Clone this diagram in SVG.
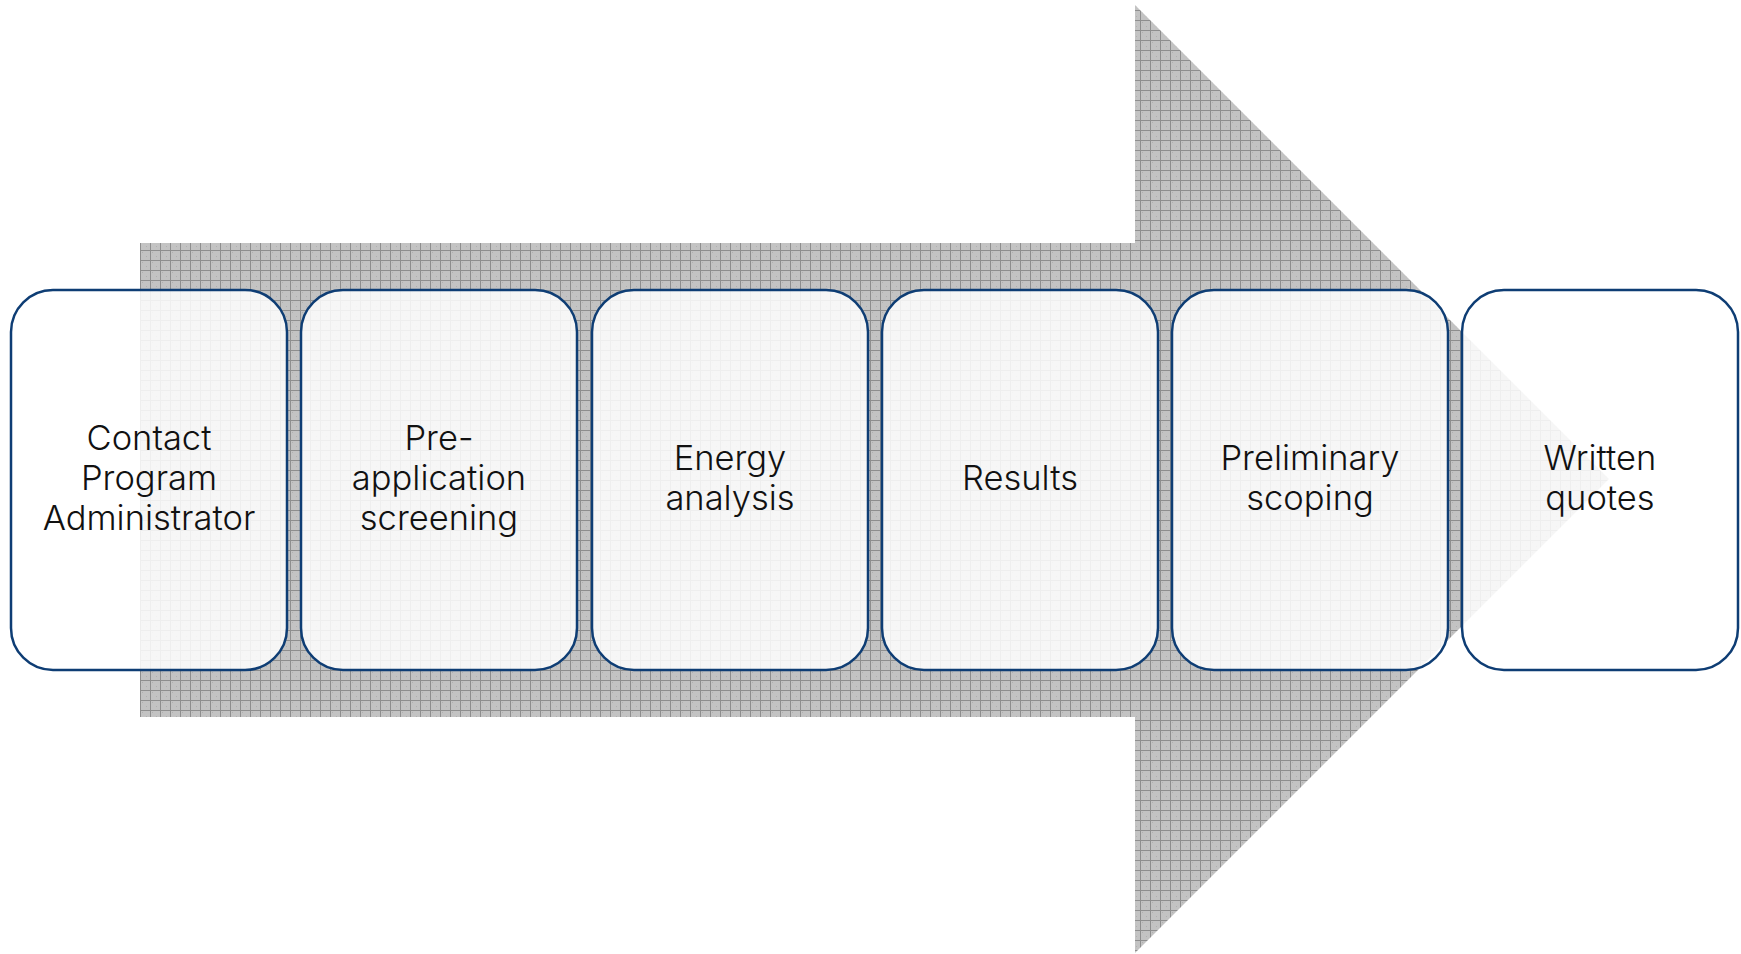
<svg xmlns="http://www.w3.org/2000/svg" width="1741" height="954" viewBox="0 0 1741 954">
<defs>
<pattern id="grid" x="0" y="0" width="10" height="10" patternUnits="userSpaceOnUse">
<rect width="10" height="10" fill="#c3c3c3"/>
<rect x="2" y="2" width="1" height="1" fill="#b0b0b0"/>
<rect x="6" y="6" width="1" height="1" fill="#b0b0b0"/>
<path d="M0 0.5 H10 M0.5 0 V10" stroke="#8e8e8e" stroke-width="1"/>
</pattern>
<style>
.box { fill: #ffffff; fill-opacity: 0.85; stroke: #0e3d74; stroke-width: 2.5; }
.lbl { font-family: Inter, "Liberation Sans", Arial, sans-serif; font-weight: 300; font-size: 34.5px; fill: #111111; text-anchor: middle; }
</style>
</defs>
<rect width="1741" height="954" fill="#ffffff"/>
<g id="arrow">
<polygon points="140,243 1135,243 1135,5 1609,479 1135,953 1135,717 140,717" fill="url(#grid)"/>
</g>
<g id="connectors"></g>
<g id="node1">
<rect class="box" x="11" y="290" width="276" height="380" rx="42" ry="42"/>
<text class="lbl" x="149" y="450">Contact</text>
<text class="lbl" x="149" y="490">Program</text>
<text class="lbl" x="149" y="530">Administrator</text>
</g>
<g id="node2">
<rect class="box" x="301" y="290" width="276" height="380" rx="42" ry="42"/>
<text class="lbl" x="439" y="450">Pre-</text>
<text class="lbl" x="439" y="490">application</text>
<text class="lbl" x="439" y="530">screening</text>
</g>
<g id="node3">
<rect class="box" x="592" y="290" width="276" height="380" rx="42" ry="42"/>
<text class="lbl" x="730" y="470">Energy</text>
<text class="lbl" x="730" y="510">analysis</text>
</g>
<g id="node4">
<rect class="box" x="882" y="290" width="276" height="380" rx="42" ry="42"/>
<text class="lbl" x="1020" y="490">Results</text>
</g>
<g id="node5">
<rect class="box" x="1172" y="290" width="276" height="380" rx="42" ry="42"/>
<text class="lbl" x="1310" y="470">Preliminary</text>
<text class="lbl" x="1310" y="510">scoping</text>
</g>
<g id="node6">
<rect class="box" x="1462" y="290" width="276" height="380" rx="42" ry="42"/>
<text class="lbl" x="1600" y="470">Written</text>
<text class="lbl" x="1600" y="510">quotes</text>
</g>
</svg>
